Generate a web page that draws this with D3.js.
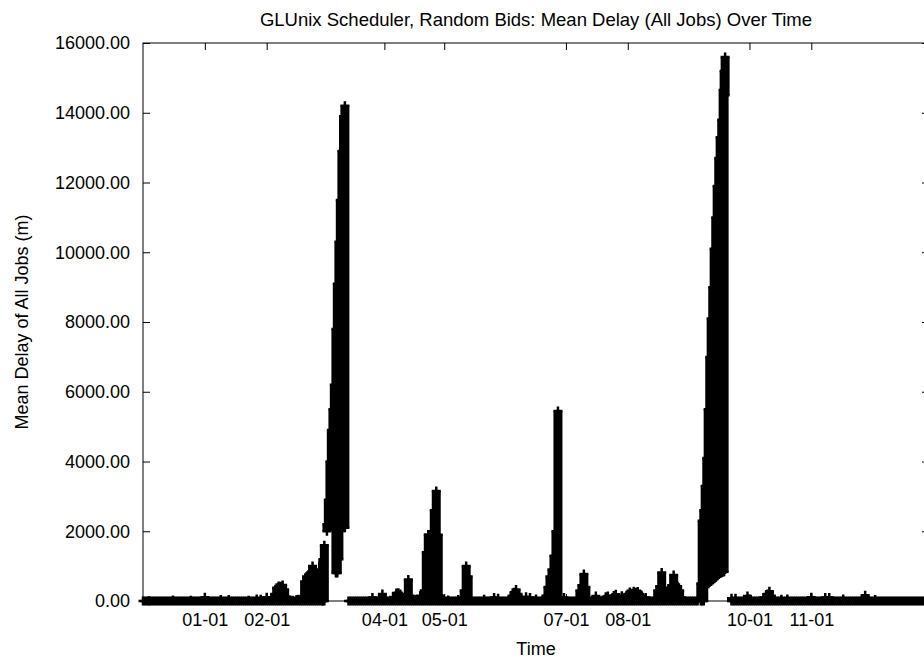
<!DOCTYPE html>
<html lang="en">
<head>
<meta charset="UTF-8" />
<title>GLUnix Scheduler, Random Bids: Mean Delay (All Jobs) Over Time</title>
<script src="https://cdn.jsdelivr.net/npm/d3@7"></script>
<style>
  * { margin: 0; padding: 0; }
  body { background: #fff; }
  text { font-family: "Liberation Sans", Arial, Helvetica, sans-serif; }
</style>
</head>
<body>
<svg id="chart" width="924" height="662"></svg>
<script>
// time range of the run (day 0 = 12-01)
const startDay = Date.UTC(1996, 11, 1);
const endDay = Date.UTC(1997, 11, 30);

const tickDates = ["1997-01-01", "1997-02-01", "1997-04-01", "1997-05-01",
                   "1997-07-01", "1997-08-01", "1997-10-01", "1997-11-01"];
const tickLabels = ["01-01", "02-01", "04-01", "05-01", "07-01", "08-01", "10-01", "11-01"];
const yTicks = [0, 2000, 4000, 6000, 8000, 10000, 12000, 14000, 16000];

// one sample per day from 12-01, mean delay in minutes (null = no low sample that day)
const daily = [
  0, 0, 0, 10, 0, 0, 0, 0, 0, 0,
  0, 0, 0, 0, 0, 30, 0, 0, 0, 0,
  0, 0, 0, 0, 20, 0, 0, 0, 0, 0,
  0, 110, 0, 0, 0, 0, 0, 0, 0, 40,
  0, 0, 0, 40, 0, 0, 0, 0, 0, 0,
  0, 0, 0, 20, 0, 0, 0, 60, 0, 50,
  0, 0, 110, 0, 0, 0, 200, 380, 430, 420,
  460, 330, 120, 30, 0, 20, 0, 40, 50, 0,
  100, 560, 700, 760, 820, 1003, 760, 700, 750, 900,
  1100, null, null, null, null, null, null, null, null, null,
  null, null, null, 0, 0, 0, 0, 0, 0, 0,
  0, 0, 0, 0, 0, 100, 0, 0, 0, 0,
  200, 30, 0, 0, 20, 0, 100, 230, 240, 200,
  100, 0, 150, 620, 150, 0, 0, 40, 0, 150,
  100, 300, 1400, 1906, 1850, 2000, 2600, 3154, 1900, 150,
  60, 0, 0, 30, 0, 0, 0, 0, 40, 0,
  0, 300, 1003, 700, 50, 0, 0, 0, 0, 0,
  0, 50, 0, 0, 0, 0, 100, 0, 80, 0,
  0, 0, 0, 0, 0, 150, 250, 330, 200, 0,
  0, 0, 120, 0, 100, 0, 0, 60, 0, 0,
  0, 50, 150, 400, 700, 900, 1300, 2000, 5450, 50,
  0, 100, 0, 0, 0, 0, 0, 0, 0, 300,
  450, 775, 400, 60, 0, 0, 0, 140, 0, 0,
  0, 0, 120, 140, 0, 0, 160, 190, 0, 0,
  150, 0, 0, 200, 260, 220, 280, 250, 270, 200,
  150, 0, 100, 0, 0, 0, 0, 80, 300, 420,
  817, 380, 100, 100, 350, 450, 745, 470, 420, 300,
  100, 0, 0, 0, 0, 0, 0, 0, 0, null,
  null, null, null, null, null, null, null, null, null, null,
  null, null, null, null, null, 80, 0, 80, 0, 0,
  0, 0, 0, 140, 0, 0, 0, 0, 0, 0,
  0, 100, 0, 200, 280, 150, 0, 0, 0, 0,
  50, 0, 0, 60, 0, 0, 0, 0, 0, 0,
  0, 0, 0, 0, 0, 110, 0, 0, 0, 0,
  0, 0, 100, 0, 100, 0, 0, 0, 0, 0,
  0, 60, 0, 0, 0, 0, 0, 0, 0, 0,
  0, 0, 165, 0, 0, 0, 0, 40, 0, 0,
  0, 0, 0, 0, 0, 0, 0, 0, 0, 0,
  0, 0, 0, 0, 0, 0, 0, 0, 0, 0,
  0, 0, 0, 0, 0
];

// big backlog in March: [day, lowest, highest]
const spikeMar = [
  [90.2, 0, 1200], [90.9, 0, 1600], [92.2, 2000, 2200], [92.9, 2150, 2900],
  [93.7, 2150, 4000], [94.4, 2150, 4900], [95.2, 2150, 5500], [95.9, 2150, 6200],
  [96.7, 800, 7800], [97.4, 800, 9100], [98.2, 1200, 10300], [98.9, 2100, 11500],
  [99.7, 2100, 12900], [100.5, 2100, 13900], [101.2, 2100, 14200]
];

// big backlog in September: [day, lowest, highest]
const spikeSep = [
  [279.6, 0, 500], [280.3, 0, 2300], [281.1, 0, 2600], [281.8, 400, 3300],
  [282.6, 500, 4100], [283.3, 520, 5500], [284.1, 540, 7000], [284.8, 560, 8100],
  [285.6, 600, 9000], [286.3, 640, 10100], [287.1, 680, 11000], [287.8, 720, 11900],
  [288.6, 760, 12700], [289.3, 790, 13300], [290.1, 810, 13800], [290.8, 830, 14650],
  [291.3, 840, 15200], [291.8, 14500, 15600]
];

const width = 924, height = 662;
const margin = { top: 43, right: -5, bottom: 61, left: 143 };

const svg = d3.select("#chart");

const dayDate = (d) => new Date(startDay + d * 864e5);

const x = d3.scaleUtc()
  .domain([new Date(startDay), new Date(endDay)])
  .range([margin.left, width - margin.right]);
const y = d3.scaleLinear()
  .domain([0, 16000])
  .range([height - margin.bottom, margin.top]);

// all samples as columns: lo..hi
const cols = [];
daily.forEach((v, i) => { if (v !== null) cols.push({ d: i, lo: 0, hi: v }); });
spikeMar.concat(spikeSep).forEach(([d, lo, hi]) => cols.push({ d, lo, hi }));

const half = 4.5;
const marks = svg.append("g");

marks.selectAll("rect")
  .data(cols.filter((c) => c.hi > c.lo))
  .join("rect")
  .attr("x", (c) => x(dayDate(c.d)) - half)
  .attr("width", half * 2)
  .attr("y", (c) => y(c.hi))
  .attr("height", (c) => y(c.lo) - y(c.hi))
  .attr("fill", "#000");

const pts = [];
cols.forEach((c) => {
  pts.push({ d: c.d, v: c.hi });
  if (c.hi !== c.lo) pts.push({ d: c.d, v: c.lo });
});

// "+" point for every sample end
marks.selectAll("path")
  .data(pts)
  .join("path")
  .attr("d", (p) => {
    const cx = x(dayDate(p.d)), cy = y(p.v);
    return `M${cx - half},${cy}h${half * 2}M${cx},${cy - half}v${half * 2}`;
  })
  .attr("stroke", "#000")
  .attr("stroke-width", 2.5)
  .attr("fill", "none");

// frame
const x0 = margin.left, x1 = width - margin.right;
const y0 = margin.top, y1 = height - margin.bottom;
svg.append("rect")
  .attr("x", x0).attr("y", y0)
  .attr("width", x1 - x0).attr("height", y1 - y0)
  .attr("fill", "none").attr("stroke", "#000").attr("stroke-width", 1);

const tickVals = tickDates.map((s) => new Date(s + "T00:00:00Z"));

function styleAxis(g) {
  g.select(".domain").remove();
  g.selectAll("line").attr("stroke", "#000");
  g.selectAll("text")
    .attr("fill", "#000")
    .attr("font-size", 18)
    .attr("font-family", '"Liberation Sans", Arial, sans-serif');
}

svg.append("g")
  .attr("transform", `translate(0,${y1})`)
  .call(d3.axisBottom(x).tickValues(tickVals)
    .tickFormat((d, i) => tickLabels[i])
    .tickSizeInner(-7).tickSizeOuter(0).tickPadding(12))
  .call(styleAxis);

svg.append("g")
  .attr("transform", `translate(0,${y0})`)
  .call(d3.axisTop(x).tickValues(tickVals).tickFormat("")
    .tickSizeInner(-7).tickSizeOuter(0))
  .call(styleAxis);

svg.append("g")
  .attr("transform", `translate(${x0},0)`)
  .call(d3.axisLeft(y).tickValues(yTicks).tickFormat(d3.format(".2f"))
    .tickSizeInner(-7).tickSizeOuter(0).tickPadding(13))
  .call(styleAxis);

svg.append("g")
  .attr("transform", `translate(${x1},0)`)
  .call(d3.axisRight(y).tickValues(yTicks).tickFormat("")
    .tickSizeInner(-7).tickSizeOuter(0))
  .call(styleAxis);

// titles
svg.append("text")
  .attr("x", (x0 + x1) / 2).attr("y", 26)
  .attr("text-anchor", "middle").attr("font-size", 18.5)
  .text("GLUnix Scheduler, Random Bids: Mean Delay (All Jobs) Over Time");

svg.append("text")
  .attr("x", (x0 + x1) / 2).attr("y", 655)
  .attr("text-anchor", "middle").attr("font-size", 18)
  .text("Time");

svg.append("text")
  .attr("transform", `translate(28,${(y0 + y1) / 2}) rotate(-90)`)
  .attr("text-anchor", "middle").attr("font-size", 18)
  .text("Mean Delay of All Jobs (m)");
</script>
</body>
</html>
